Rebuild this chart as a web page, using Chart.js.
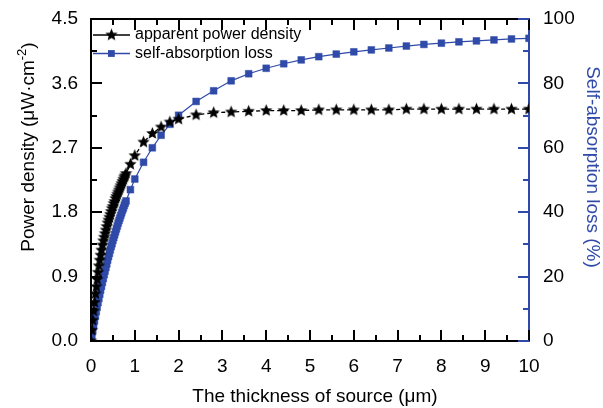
<!DOCTYPE html>
<html>
<head>
<meta charset="utf-8">
<script src="https://cdn.jsdelivr.net/npm/chart.js@4.4.0/dist/chart.umd.min.js"></script>
<style>
  html, body { margin: 0; padding: 0; background: #fff; }
  #chart { display: block; }
</style>
</head>
<body>
<canvas id="chart" width="603" height="408"></canvas>
<script>
// source thickness (μm)
const thickness = [
  0, 0.02, 0.04, 0.06, 0.08, 0.1, 0.12, 0.14, 0.16, 0.18,
  0.2, 0.22, 0.24, 0.26, 0.28, 0.3, 0.32, 0.34, 0.36, 0.38,
  0.4, 0.42, 0.44, 0.46, 0.48, 0.5, 0.52, 0.54, 0.56, 0.58,
  0.6, 0.62, 0.64, 0.66, 0.68, 0.7, 0.72, 0.74, 0.76, 0.78,
  0.8, 0.9, 1.0, 1.2, 1.4, 1.6, 1.8, 2.0, 2.4, 2.8,
  3.2, 3.6, 4.0, 4.4, 4.8, 5.2, 5.6, 6.0, 6.4, 6.8,
  7.2, 7.6, 8.0, 8.4, 8.8, 9.2, 9.6, 10
];
// apparent power density (μW·cm-2)
const powerDensity = [
  0, 0.15, 0.29, 0.42, 0.54, 0.66, 0.76, 0.86, 0.96, 1.05,
  1.13, 1.20, 1.27, 1.34, 1.40, 1.45, 1.50, 1.55, 1.60, 1.65,
  1.69, 1.73, 1.77, 1.81, 1.85, 1.88, 1.92, 1.95, 1.99, 2.02,
  2.05, 2.08, 2.11, 2.14, 2.17, 2.20, 2.23, 2.26, 2.29, 2.31,
  2.34, 2.47, 2.59, 2.78, 2.90, 2.99, 3.06, 3.10, 3.16, 3.19,
  3.20, 3.21, 3.22, 3.22, 3.22, 3.23, 3.23, 3.23, 3.23, 3.23,
  3.24, 3.24, 3.24, 3.24, 3.24, 3.24, 3.24, 3.24
];
// self-absorption loss (%)
const absorptionLoss = [
  0, 1.6, 3.1, 4.7, 6.2, 7.7, 9.1, 10.5, 11.9, 13.2,
  14.5, 15.8, 17.0, 18.2, 19.4, 20.6, 21.7, 22.8, 23.9, 25.1,
  26.2, 27.2, 28.3, 29.3, 30.2, 31.2, 32.1, 33.0, 33.9, 34.8,
  35.7, 36.6, 37.4, 38.2, 39.0, 39.8, 40.6, 41.3, 42.1, 42.8,
  43.5, 47.0, 50.3, 55.5, 60.0, 63.9, 67.3, 70.1, 74.4, 77.7,
  80.8, 83.0, 84.7, 86.1, 87.3, 88.3, 89.1, 89.8, 90.4, 91.0,
  91.6, 92.1, 92.5, 92.9, 93.2, 93.5, 93.8, 94.0
];
const seriesLabels = ['apparent power density', 'self-absorption loss'];

// tick values
const xTicks = [0, 1, 2, 3, 4, 5, 6, 7, 8, 9, 10];
const powerTicks = [0, 0.9, 1.8, 2.7, 3.6, 4.5];
const lossTicks = [0, 20, 40, 60, 80, 100];

const FONT = "'Liberation Sans', Arial, sans-serif";
const BLUE = '#2f4aa8';

// filled five point star used as marker
function makeStar(r) {
  const c = document.createElement('canvas');
  const size = Math.ceil(r * 2 + 2);
  c.width = c.height = size;
  const g = c.getContext('2d');
  g.translate(size / 2, size / 2);
  g.beginPath();
  for (let i = 0; i < 10; i++) {
    const rad = i % 2 ? r * 0.45 : r;
    const ang = -Math.PI / 2 + i * Math.PI / 5;
    g.lineTo(rad * Math.cos(ang), rad * Math.sin(ang));
  }
  g.closePath();
  g.fillStyle = '#000';
  g.fill();
  return c;
}
const star = makeStar(6.5);

const setTicks = values => scale => {
  scale.ticks = values.map(v => ({ value: v }));
};

// inward ticks + top frame line
const frameTicks = {
  id: 'frameTicks',
  afterDatasetsDraw(chart) {
    const { ctx, chartArea: a, scales } = chart;
    ctx.save();
    ctx.lineWidth = 2;
    ctx.strokeStyle = '#000';
    ctx.beginPath();
    ctx.moveTo(a.left - 1, a.top);
    ctx.lineTo(a.right, a.top);
    ctx.stroke();

    const withMinor = scale => {
      const vals = scale.ticks.map(t => t.value);
      const out = [];
      vals.forEach((v, i) => {
        out.push([v, 11]);
        if (i < vals.length - 1) out.push([(v + vals[i + 1]) / 2, 6]);
      });
      return out;
    };

    ctx.beginPath();
    withMinor(scales.x).forEach(([v, len]) => {
      const px = Math.round(scales.x.getPixelForValue(v));
      ctx.moveTo(px, a.bottom);
      ctx.lineTo(px, a.bottom - len);
      ctx.moveTo(px, a.top);
      ctx.lineTo(px, a.top + len);
    });
    withMinor(scales.y).forEach(([v, len]) => {
      const py = Math.round(scales.y.getPixelForValue(v));
      ctx.moveTo(a.left, py);
      ctx.lineTo(a.left + len, py);
    });
    ctx.stroke();

    ctx.strokeStyle = BLUE;
    ctx.beginPath();
    withMinor(scales.y1).forEach(([v, len]) => {
      const py = Math.round(scales.y1.getPixelForValue(v));
      ctx.moveTo(a.right, py);
      ctx.lineTo(a.right - len, py);
    });
    ctx.stroke();
    ctx.restore();
  }
};

// legend in the top left corner: line, marker, label
const cornerLegend = {
  id: 'cornerLegend',
  afterDatasetsDraw(chart) {
    const { ctx } = chart;
    const rows = [35, 53.5];
    ctx.save();
    ctx.font = '16px ' + FONT;
    ctx.textBaseline = 'middle';
    chart.data.datasets.forEach((ds, i) => {
      const y = rows[i];
      ctx.strokeStyle = ds.borderColor;
      ctx.lineWidth = 1.3;
      ctx.beginPath();
      ctx.moveTo(93, y);
      ctx.lineTo(130, y);
      ctx.stroke();
      if (i === 0) {
        ctx.drawImage(star, 111.5 - star.width / 2, y - star.height / 2);
      } else {
        ctx.fillStyle = BLUE;
        ctx.fillRect(108, y - 3.4, 6.8, 6.8);
      }
      ctx.fillStyle = '#000';
      ctx.fillText(ds.label, 135, y);
    });
    ctx.restore();
  }
};

// axis titles
const axisTitles = {
  id: 'axisTitles',
  afterDraw(chart) {
    const { ctx } = chart;
    ctx.save();
    ctx.textBaseline = 'middle';

    ctx.font = '19px ' + FONT;
    ctx.fillStyle = '#000';
    ctx.textAlign = 'center';
    ctx.fillText('The thickness of source (μm)', 315, 397);

    // left: rotated, with superscript
    const parts = [
      { t: 'Power density (μW·cm', f: '19px ' + FONT, dy: 0 },
      { t: '-2', f: '13px ' + FONT, dy: -7 },
      { t: ')', f: '19px ' + FONT, dy: 0 }
    ];
    let total = 0;
    parts.forEach(p => { ctx.font = p.f; p.w = ctx.measureText(p.t).width; total += p.w; });
    ctx.translate(29, 147);
    ctx.rotate(-Math.PI / 2);
    ctx.textAlign = 'left';
    let x = -total / 2;
    parts.forEach(p => {
      ctx.font = p.f;
      ctx.fillText(p.t, x, p.dy);
      x += p.w;
    });
    ctx.setTransform(1, 0, 0, 1, 0, 0);

    ctx.font = '19px ' + FONT;
    ctx.fillStyle = BLUE;
    ctx.textAlign = 'center';
    ctx.translate(592, 167);
    ctx.rotate(Math.PI / 2);
    ctx.fillText('Self-absorption loss (%)', 0, 0);
    ctx.restore();
  }
};

const tickFont = { family: FONT, size: 19 };

new Chart(document.getElementById('chart'), {
  type: 'line',
  data: {
    datasets: [
      {
        label: seriesLabels[0],
        data: thickness.map((t, i) => ({ x: t, y: powerDensity[i] })),
        yAxisID: 'y',
        borderColor: '#000',
        borderWidth: 1.3,
        borderDash: [4, 3],
        pointStyle: star,
        pointRadius: 6,
        backgroundColor: '#000'
      },
      {
        label: seriesLabels[1],
        data: thickness.map((t, i) => ({ x: t, y: absorptionLoss[i] })),
        yAxisID: 'y1',
        borderColor: BLUE,
        borderWidth: 1.2,
        pointStyle: 'rect',
        pointRadius: 4.8,
        pointBackgroundColor: BLUE,
        pointBorderColor: BLUE,
        pointBorderWidth: 0.5
      }
    ]
  },
  options: {
    responsive: false,
    animation: false,
    layout: { padding: { top: 19, left: 0, right: 0, bottom: 0 } },
    plugins: { legend: { display: false }, tooltip: { enabled: false } },
    scales: {
      x: {
        type: 'linear',
        position: 'bottom',
        min: 0,
        max: 10,
        afterBuildTicks: setTicks(xTicks),
        afterFit: s => { s.height = 67; },
        grid: { display: false },
        border: { display: true, color: '#000', width: 2 },
        ticks: { font: tickFont, color: '#000', padding: 6, maxRotation: 0, autoSkip: false }
      },
      y: {
        position: 'left',
        min: 0,
        max: 4.5,
        afterBuildTicks: setTicks(powerTicks),
        afterFit: s => { s.width = 91; },
        grid: { display: false },
        border: { display: true, color: '#000', width: 2 },
        ticks: { font: tickFont, color: '#000', padding: 5, callback: v => v.toFixed(1) }
      },
      y1: {
        position: 'right',
        min: 0,
        max: 100,
        afterBuildTicks: setTicks(lossTicks),
        afterFit: s => { s.width = 74; },
        grid: { display: false },
        border: { display: true, color: BLUE, width: 2 },
        ticks: { font: tickFont, color: '#000', padding: 6 }
      }
    }
  },
  plugins: [frameTicks, cornerLegend, axisTitles]
});
</script>
</body>
</html>
